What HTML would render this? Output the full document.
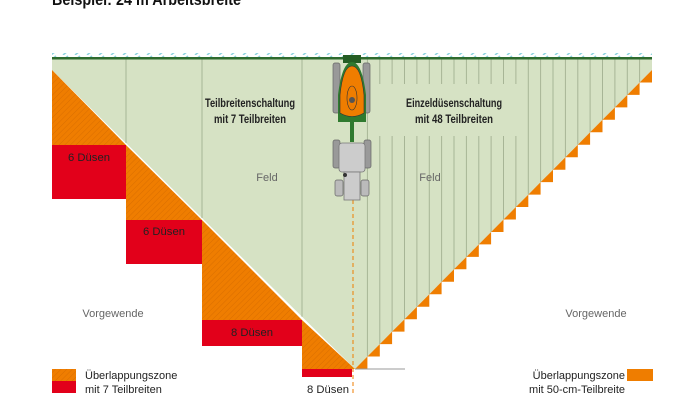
<!DOCTYPE html>
<html><head><meta charset="utf-8"><style>
html,body{margin:0;padding:0;background:#fff;}
svg{display:block;font-family:"Liberation Sans",sans-serif;}
</style></head><body>
<svg id="s" width="690" height="414" viewBox="0 0 690 414" xmlns="http://www.w3.org/2000/svg">
<defs>
<pattern id="h" width="4" height="4" patternUnits="userSpaceOnUse" patternTransform="rotate(45)">
<rect width="4" height="4" fill="#ef7d00"/><line x1="0" y1="0" x2="0" y2="4" stroke="#d46a00" stroke-width="0.8"/>
</pattern>
<pattern id="tk" width="12" height="5" patternUnits="userSpaceOnUse">
<line x1="3" y1="5" x2="8" y2="1" stroke="#8fd3e0" stroke-width="1.5"/>
</pattern>
</defs>
<text x="52" y="5" font-size="17" font-weight="bold" fill="#111" textLength="189" lengthAdjust="spacingAndGlyphs">Beispiel: 24 m Arbeitsbreite</text>
<rect x="52" y="53" width="600" height="5" fill="url(#tk)"/>
<polygon points="52,58 652,58 652,70 355,369 52,70" fill="#d6e2c4"/>
<g id="lines" stroke="#a7b596" stroke-width="1"></g>
<rect x="203" y="84" width="98" height="52" fill="#d6e2c4"/>
<rect x="370" y="84" width="150" height="52" fill="#d6e2c4"/>
<g id="stairs" fill="#ef7d00"></g>
<polygon points="52,70 52,145 126,145" fill="url(#h)"/>
<rect x="52" y="145" width="74" height="54" fill="#e2001a"/>
<polygon points="126,145 126,220 202,220" fill="url(#h)"/>
<rect x="126" y="220" width="76" height="44" fill="#e2001a"/>
<polygon points="202,220 202,320 302,320" fill="url(#h)"/>
<rect x="202" y="320" width="100" height="26" fill="#e2001a"/>
<polygon points="302,320 302,369 355,369" fill="url(#h)"/>
<rect x="302" y="369" width="50" height="8" fill="#e2001a"/>
<rect x="52" y="57" width="600" height="2.5" fill="#2e6b2e"/>
<line x1="355" y1="369" x2="405" y2="369" stroke="#999" stroke-width="1"/>
<line x1="353" y1="200" x2="353" y2="396" stroke="#ef7d00" stroke-width="1" stroke-dasharray="4,3"/>
<g font-size="11" fill="#222" text-anchor="middle">
<text x="89" y="161" textLength="42" lengthAdjust="spacingAndGlyphs">6 Düsen</text>
<text x="164" y="235" textLength="42" lengthAdjust="spacingAndGlyphs">6 Düsen</text>
<text x="252" y="336" textLength="42" lengthAdjust="spacingAndGlyphs">8 Düsen</text>
<text x="328" y="393" textLength="42" lengthAdjust="spacingAndGlyphs">8 Düsen</text>
</g>
<g font-size="12" font-weight="bold" fill="#222" text-anchor="middle">
<text x="250" y="107" textLength="90" lengthAdjust="spacingAndGlyphs">Teilbreitenschaltung</text>
<text x="250" y="123" textLength="72" lengthAdjust="spacingAndGlyphs">mit 7 Teilbreiten</text>
<text x="454" y="107" textLength="96" lengthAdjust="spacingAndGlyphs">Einzeldüsenschaltung</text>
<text x="454" y="123" textLength="78" lengthAdjust="spacingAndGlyphs">mit 48 Teilbreiten</text>
</g>
<g font-size="11" fill="#666" text-anchor="middle">
<text x="267" y="181">Feld</text>
<text x="430" y="181">Feld</text>
<text x="113" y="317">Vorgewende</text>
<text x="596" y="317">Vorgewende</text>
</g>
<g>
<rect x="343" y="55" width="18" height="8" fill="#245d24"/>
<rect x="333" y="63" width="7" height="50" rx="2" fill="#999" stroke="#666" stroke-width="0.7"/>
<rect x="363" y="63" width="7" height="50" rx="2" fill="#999" stroke="#666" stroke-width="0.7"/>
<path d="M338,122 L338,95 Q342,62 352,62 Q362,62 366,95 L366,122 Z" fill="#2f7a2f"/>
<path d="M340,113 L340,95 Q343,66 352,66 Q361,66 364,95 L364,113 Q352,120 340,113 Z" fill="#ef7d00" stroke="#333" stroke-width="0.6"/>
<ellipse cx="352" cy="98" rx="5" ry="12" fill="none" stroke="#333" stroke-width="0.6"/>
<circle cx="352" cy="100" r="3" fill="#555"/>
<rect x="350" y="122" width="4" height="20" fill="#2f7a2f"/>
<rect x="333" y="140" width="7" height="28" rx="2" fill="#999" stroke="#666" stroke-width="0.7"/>
<rect x="364" y="140" width="7" height="28" rx="2" fill="#999" stroke="#666" stroke-width="0.7"/>
<rect x="339" y="143" width="26" height="29" rx="3" fill="#ccc" stroke="#777" stroke-width="0.8"/>
<rect x="344" y="172" width="16" height="28" fill="#ccc" stroke="#777" stroke-width="0.8"/>
<rect x="335" y="180" width="8" height="16" rx="2" fill="#bbb" stroke="#666" stroke-width="0.7"/>
<rect x="361" y="180" width="8" height="16" rx="2" fill="#bbb" stroke="#666" stroke-width="0.7"/>
<circle cx="345" cy="175" r="2" fill="#333"/>
</g>
<rect x="52" y="369" width="24" height="12" fill="url(#h)"/>
<rect x="52" y="381" width="24" height="12" fill="#e2001a"/>
<g font-size="11" fill="#222">
<text x="85" y="379">Überlappungszone</text>
<text x="85" y="393">mit 7 Teilbreiten</text>
</g>
<rect x="627" y="369" width="26" height="12" fill="#ef7d00"/>
<g font-size="11" fill="#222" text-anchor="end">
<text x="625" y="379">Überlappungszone</text>
<text x="625" y="393">mit 50-cm-Teilbreite</text>
</g>
</svg>
<script>
var ns="http://www.w3.org/2000/svg";
var L=document.getElementById("lines"),S=document.getElementById("stairs");
function yd(x){return 369-(x-355)*(299/297);}
function ln(x,y1,y2){var e=document.createElementNS(ns,"line");e.setAttribute("x1",x);e.setAttribute("x2",x);e.setAttribute("y1",y1);e.setAttribute("y2",y2);L.appendChild(e);}
[126,202,302].forEach(function(x){ln(x,59,70+(x-52)*0.987);});
var w=297/24;
for(var k=1;k<24;k++){var x=355+k*w;ln(x.toFixed(1),59,yd(x));}
for(var k=0;k<24;k++){var x0=355+k*w,x1=x0+w;
var p=document.createElementNS(ns,"polygon");
p.setAttribute("points",x0.toFixed(1)+","+yd(x0).toFixed(1)+" "+x1.toFixed(1)+","+yd(x1).toFixed(1)+" "+x1.toFixed(1)+","+yd(x0).toFixed(1));
S.appendChild(p);}
</script>
</body></html>
